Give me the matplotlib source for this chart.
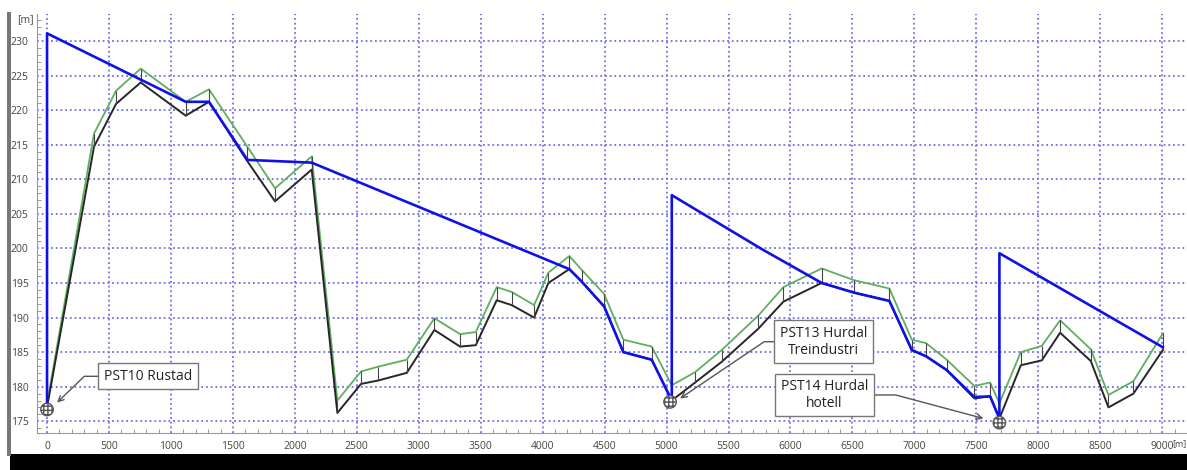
"""
Lengdeprofil PST10 Rustad - PST14 Hurdal hotell.
Terreng (grønn), ledning (svart) og trykklinje (blå).
"""

import matplotlib
matplotlib.use("Agg")
import matplotlib.pyplot as plt
from matplotlib.patches import Rectangle
from matplotlib.ticker import MultipleLocator

plt.rcParams["font.family"] = ["Open Sans", "DejaVu Sans"]

# --- data (lest av bildet) ---
node_x = [0, 379, 557, 756, 1119, 1307, 1617, 1840, 2136,
          2343, 2534, 2674, 2903, 3126, 3333, 3460, 3629, 3750, 3931,
          4046, 4215, 4315, 4496, 4651, 4880, 5042,
          5230, 5445, 5741, 5943, 6252, 6513, 6798,
          6979, 7094, 7261, 7484, 7611, 7686,
          7859, 8028, 8176, 8424, 8566, 8768, 9005]
terrain_y = [177.5, 216.6, 222.8, 226.0, 221.2, 223.0, 214.7, 208.7, 213.3,
             178.0, 182.2, 182.9, 183.9, 189.9, 187.6, 187.9, 194.4, 193.7, 191.8,
             196.5, 198.9, 196.9, 193.4, 186.8, 185.8, 180.2,
             182.1, 185.3, 190.3, 194.4, 197.1, 195.4, 194.2,
             186.8, 186.3, 183.9, 180.1, 180.6, 177.6,
             185.0, 185.9, 189.6, 185.4, 178.8, 180.8, 187.7]
pipe_y = [177.0, 214.7, 220.9, 224.0, 219.2, 221.2, 212.6, 206.8, 211.4,
          176.2, 180.4, 180.9, 182.0, 188.2, 185.8, 186.0, 192.5, 191.8, 190.0,
          195.0, 197.0, 195.2, 191.6, 185.0, 183.9, 178.0,
          180.6, 183.6, 188.4, 192.3, 195.0, 193.6, 192.4,
          185.3, 184.4, 182.4, 178.3, 178.6, 175.4,
          183.1, 183.8, 187.8, 183.7, 177.0, 179.0, 185.3]

hgl_x = [0, 0, 1119, 1307, 1617, 2136, 4215, 4315, 4496, 4651, 4880,
         5042, 5042, 5768, 6252, 6513, 6798, 6979, 7094, 7261, 7484,
         7611, 7686, 7686, 9005]
hgl_y = [177.0, 231.1, 221.2, 221.2, 212.8, 212.4, 197.0, 195.2, 191.6, 185.0, 183.9,
         178.0, 207.7, 199.9, 195.0, 193.6, 192.4, 185.3, 184.4, 182.4, 178.5,
         178.6, 175.4, 199.3, 185.7]

station_names = ["PST10 Rustad", "PST13 Hurdal\nTreindustri", "PST14 Hurdal\nhotell"]
station_x = [0, 5028, 7686]
station_y = [176.7, 177.8, 174.8]
label_x = [815, 6266, 6274]
label_y = [181.5, 186.5, 178.8]
arrow_x = [81, 5109, 7557]
arrow_y = [177.7, 178.3, 175.4]

# --- figur ---
W, H = 1187, 470
fig = plt.figure(figsize=(W / 100, H / 100), dpi=100)
fig.patch.set_facecolor("white")

# skygge / ramme rundt skjermbildet
fig.patches.append(Rectangle((10 / W, 0), 1, 16 / H, transform=fig.transFigure,
                             facecolor="black", edgecolor="none", zorder=0))
fig.patches.append(Rectangle((7 / W, 14 / H), 4 / W, (H - 26) / H, transform=fig.transFigure,
                             facecolor="#777777", edgecolor="none", zorder=0))

ax = fig.add_axes([37 / W, 37 / H, 1 - 37 / W, (433 - 14) / H])
ax.set_facecolor("white")

ax.plot(node_x, terrain_y, color="#5fae5f", lw=1.3, zorder=3)
ax.plot(node_x, pipe_y, color="#262626", lw=1.4, zorder=4)
ax.vlines(node_x, pipe_y, terrain_y, color="#444444", lw=0.8, zorder=4)
ax.plot(hgl_x, hgl_y, color="#1010e8", lw=1.9, zorder=5)

ax.scatter(station_x, station_y, s=80, marker="o", facecolors="white",
           edgecolors="#555555", hatch="++++", linewidths=1.0, zorder=6)

angles = [44, 34, 165]
relpos = [(0, 0.5), (0, 0.5), (1, 0.5)]
for name, lx, ly, tx, ty, angB, rp in zip(station_names, label_x, label_y,
                                          arrow_x, arrow_y, angles, relpos):
    ax.annotate(name, xy=(tx, ty), xytext=(lx, ly), ha="center", va="center",
                fontsize=10, color="#222222", linespacing=1.15,
                bbox=dict(boxstyle="square,pad=0.4", fc="white", ec="#777777", lw=1.0),
                arrowprops=dict(arrowstyle="->", color="#555555", lw=1.0,
                                relpos=rp, shrinkA=0, shrinkB=0,
                                connectionstyle=f"angle,angleA={0 if rp[0] == 0 else 180},angleB={angB},rad=0"),
                zorder=7)

ax.set_xlim(-81, 9200)
ax.set_ylim(173.3, 233.9)
ax.xaxis.set_major_locator(MultipleLocator(500))
ax.xaxis.set_minor_locator(MultipleLocator(100))
ax.yaxis.set_major_locator(MultipleLocator(5))
ax.yaxis.set_minor_locator(MultipleLocator(1))

ax.grid(True, which="major", color="#7070e6", linestyle=(0, (1, 1.6)), lw=1.3)
ax.tick_params(which="both", direction="in", colors="#888888",
               labelcolor="#444444", labelsize=7.5)
ax.tick_params(which="major", length=0, pad=6)
ax.tick_params(which="minor", length=3)
for side in ["top", "right"]:
    ax.spines[side].set_visible(False)
for side in ["left", "bottom"]:
    ax.spines[side].set_color("#999999")

fig.text(25 / W, 1 - 20 / H, "[m]", ha="center", va="center", fontsize=7.5, color="#444444")
fig.text(1186.5 / W, 1 - 444 / H, "[m]", ha="right", va="center", fontsize=6.5, color="#444444")

fig.savefig("out.png", dpi=100)
